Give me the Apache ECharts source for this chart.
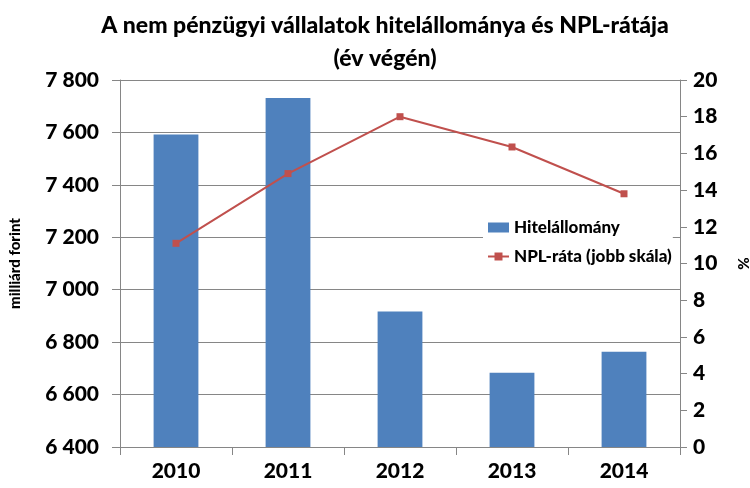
<!DOCTYPE html>
<html>
<head>
<meta charset="utf-8">
<script src="https://cdn.jsdelivr.net/npm/echarts@6/dist/echarts.min.js"></script>
<style>
  html, body { margin: 0; padding: 0; background: #fff; }
  #chart { width: 750px; height: 488px; }
</style>
</head>
<body>
<div id="chart"></div>
<script>
const years = ['2010', '2011', '2012', '2013', '2014'];
const hitelallomany = [7592, 7731, 6917, 6683, 6763];
const nplRata = [11.1, 14.9, 18.0, 16.35, 13.8];

const font = 'Lato, "Open Sans", sans-serif';
const gray = '#868686';

const chart = echarts.init(document.getElementById('chart'));

const option = {
  backgroundColor: '#fff',
  animation: false,
  textStyle: { fontFamily: font },
  title: {
    text: 'A nem pénzügyi vállalatok hitelállománya és NPL-rátája\n(év végén)',
    left: 380,
    top: 4,
    textAlign: 'center',
    textStyle: {
      fontFamily: font,
      fontWeight: 900,
      fontSize: 23,
      lineHeight: 33,
      color: '#000'
    }
  },
  legend: {
    orient: 'vertical',
    left: 483,
    top: 215,
    itemGap: 12,
    itemWidth: 21,
    itemHeight: 10,
    padding: [4, 1, 4, 4],
    backgroundColor: '#fff',
    textStyle: { fontFamily: font, fontWeight: 900, fontSize: 17, color: '#000' },
    data: [
      { name: 'Hitelállomány', icon: 'rect' },
      { name: 'NPL-ráta (jobb skála)' }
    ]
  },
  grid: {
    left: 120,
    right: 70,
    top: 80,
    bottom: 41,
    containLabel: false,
    outerBoundsMode: 'none'
  },
  xAxis: {
    type: 'category',
    data: years,
    axisLine: { lineStyle: { color: gray } },
    axisTick: { show: true, length: 8, lineStyle: { color: gray } },
    axisLabel: {
      color: '#000',
      fontWeight: 900,
      fontSize: 21,
      margin: 14
    }
  },
  yAxis: [
    {
      type: 'value',
      min: 6400,
      max: 7800,
      interval: 200,
      name: 'milliárd forint',
      nameLocation: 'middle',
      nameGap: 97,
      nameRotate: 90,
      nameTextStyle: { fontWeight: 900, fontSize: 15, color: '#000' },
      axisLine: { show: true, lineStyle: { color: gray } },
      axisTick: { show: true, length: 8, lineStyle: { color: gray } },
      axisLabel: {
        color: '#000',
        fontWeight: 900,
        fontSize: 21,
        margin: 21,
        formatter: v => String(v).replace(/\B(?=(\d{3})+(?!\d))/g, ' ')
      },
      splitLine: { lineStyle: { color: gray } }
    },
    {
      type: 'value',
      min: 0,
      max: 20,
      interval: 2,
      name: '%',
      nameLocation: 'middle',
      nameGap: 57,
      nameRotate: 90,
      nameTextStyle: { fontWeight: 900, fontSize: 15, color: '#000' },
      axisLine: { show: true, lineStyle: { color: gray } },
      axisTick: { show: true, length: 7, lineStyle: { color: gray } },
      axisLabel: {
        color: '#000',
        fontWeight: 900,
        fontSize: 21,
        margin: 13
      },
      splitLine: { show: false }
    }
  ],
  series: [
    {
      name: 'Hitelállomány',
      type: 'bar',
      data: hitelallomany,
      barWidth: '40%',
      itemStyle: { color: '#4F81BD' },
      z: 2
    },
    {
      name: 'NPL-ráta (jobb skála)',
      type: 'line',
      yAxisIndex: 1,
      data: nplRata,
      symbol: 'rect',
      symbolSize: 7,
      lineStyle: { color: '#C0504D', width: 2 },
      itemStyle: { color: '#C0504D' },
      z: 3
    }
  ]
};

chart.setOption(option);
</script>
</body>
</html>
